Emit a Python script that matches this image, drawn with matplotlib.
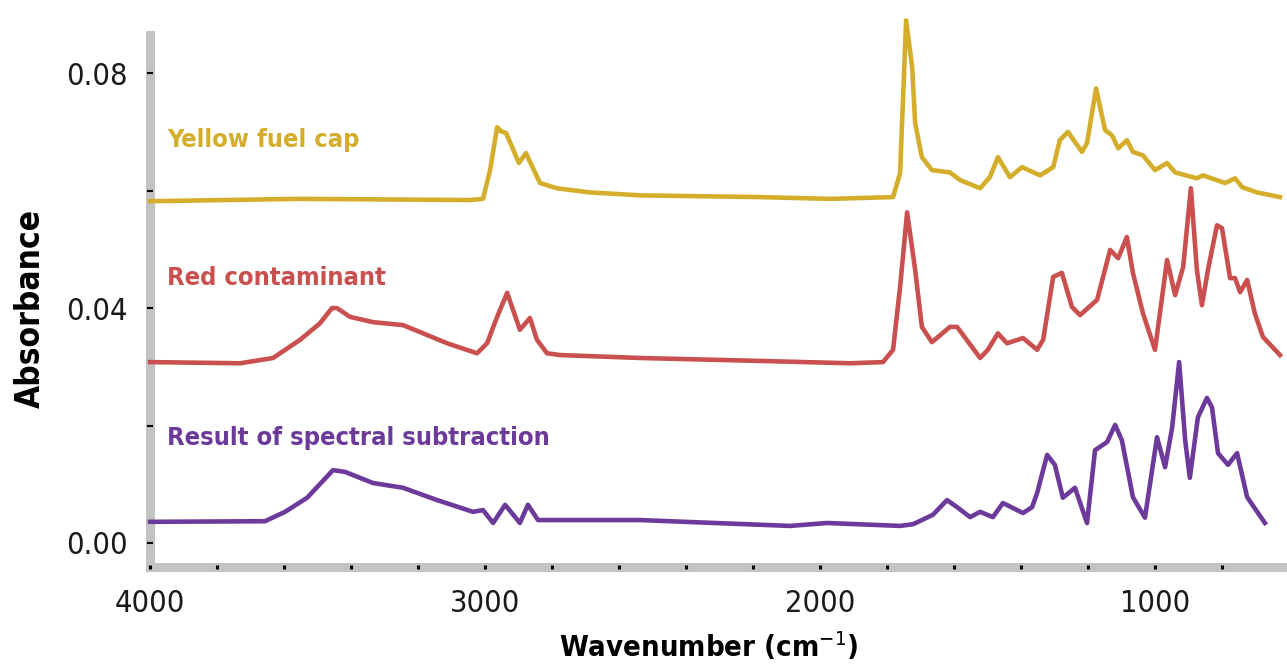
import numpy as np
import matplotlib
matplotlib.use('Agg')
import matplotlib.pyplot as plt
from matplotlib.ticker import MultipleLocator, FormatStrFormatter

# FTIR spectra, values
yellow_wn = [4000, 3552, 3045, 3006, 2985, 2964, 2952, 2937, 2899, 2878, 2836, 2785,
             2687, 2537, 2179, 1970, 1782, 1761, 1743, 1725, 1716, 1696, 1666, 1612,
             1582, 1522, 1493, 1469, 1433, 1397, 1343, 1304, 1284, 1260, 1218, 1203,
             1176, 1149, 1128, 1110, 1084, 1066, 1036, 1000, 964, 940, 875, 857,
             791, 761, 740, 696, 627]
yellow_abs = [0.0582, 0.0586, 0.0584, 0.0586, 0.0635, 0.0708, 0.0701, 0.0698, 0.0647,
              0.0664, 0.0613, 0.0604, 0.0597, 0.0592, 0.0589, 0.0586, 0.0589, 0.0630,
              0.0890, 0.0810, 0.0715, 0.0657, 0.0635, 0.0631, 0.0618, 0.0604, 0.0623,
              0.0657, 0.0623, 0.0640, 0.0626, 0.0640, 0.0686, 0.0700, 0.0666, 0.0681,
              0.0774, 0.0703, 0.0694, 0.0672, 0.0686, 0.0666, 0.0660, 0.0635, 0.0647,
              0.0631, 0.0621, 0.0626, 0.0613, 0.0621, 0.0606, 0.0597, 0.0589]

red_wn = [4000, 3731, 3633, 3552, 3493, 3457, 3442, 3403, 3334, 3245, 3185, 3113,
          3024, 2994, 2964, 2934, 2896, 2866, 2845, 2815, 2776, 2537, 2179, 1910,
          1812, 1782, 1761, 1740, 1716, 1696, 1666, 1612, 1591, 1522, 1499, 1469,
          1442, 1394, 1352, 1334, 1304, 1278, 1248, 1224, 1173, 1134, 1110, 1084,
          1066, 1036, 1000, 964, 940, 916, 893, 875, 860, 842, 815, 800, 776, 761,
          746, 725, 702, 678, 627]
red_abs = [0.0308, 0.0306, 0.0315, 0.0346, 0.0374, 0.0400, 0.0400, 0.0385, 0.0376,
           0.0371, 0.0357, 0.0340, 0.0323, 0.0340, 0.0385, 0.0426, 0.0363, 0.0383,
           0.0346, 0.0323, 0.0320, 0.0315, 0.0310, 0.0306, 0.0308, 0.0329, 0.0436,
           0.0563, 0.0465, 0.0368, 0.0342, 0.0368, 0.0368, 0.0315, 0.0329, 0.0357,
           0.0340, 0.0349, 0.0329, 0.0346, 0.0453, 0.0460, 0.0402, 0.0388, 0.0414,
           0.0499, 0.0485, 0.0521, 0.0460, 0.0391, 0.0329, 0.0482, 0.0422, 0.0470,
           0.0604, 0.0465, 0.0405, 0.0465, 0.0541, 0.0536, 0.0451, 0.0451, 0.0427,
           0.0448, 0.0391, 0.0351, 0.0320]

result_wn = [4000, 3657, 3597, 3531, 3454, 3418, 3334, 3245, 3143, 3036, 3006, 2976,
             2940, 2896, 2872, 2842, 2537, 2090, 1979, 1761, 1722, 1663, 1621, 1591,
             1552, 1522, 1484, 1454, 1394, 1367, 1352, 1322, 1299, 1275, 1239, 1203,
             1179, 1143, 1119, 1099, 1066, 1030, 994, 970, 949, 928, 910, 896, 872,
             845, 830, 812, 782, 755, 725, 672]
result_abs = [0.0036, 0.0037, 0.0053, 0.0077, 0.0124, 0.0121, 0.0102, 0.0094, 0.0073,
              0.0053, 0.0056, 0.0034, 0.0065, 0.0034, 0.0065, 0.0039, 0.0039, 0.0029,
              0.0034, 0.0029, 0.0032, 0.0048, 0.0073, 0.0061, 0.0044, 0.0053, 0.0044,
              0.0068, 0.0051, 0.0061, 0.0085, 0.0150, 0.0133, 0.0077, 0.0094, 0.0034,
              0.0158, 0.0172, 0.0201, 0.0175, 0.0078, 0.0043, 0.0180, 0.0129, 0.0196,
              0.0308, 0.0175, 0.0111, 0.0214, 0.0247, 0.0231, 0.0153, 0.0133, 0.0153,
              0.0078, 0.0034]

names = ['Yellow fuel cap', 'Red contaminant', 'Result of spectral subtraction']
colors = ['#d4ae2b', '#c9504e', '#6c3a9a']
label_y = [0.0686, 0.0451, 0.0179]

plt.rcParams['font.family'] = 'DejaVu Sans'
plt.rcParams['font.stretch'] = 'condensed'

fig = plt.figure(figsize=(12.87, 6.66), dpi=100)
ax = fig.add_axes([0.1166, 0.1486, 0.8834, 0.7988])

series = [(yellow_wn, yellow_abs), (red_wn, red_abs), (result_wn, result_abs)]
for (wn, ab), c, name, ly in zip(series, colors, names, label_y):
    ax.plot(wn, ab, color=c, lw=3.3, clip_on=False, solid_joinstyle='round', zorder=3)
    ax.text(3950, ly, name, color=c, fontsize=18.3, fontweight='bold',
            fontstretch='condensed', va='center', ha='left')

ax.set_xlim(4000, 606)
ax.set_ylim(-0.0041, 0.0865)

for side in ['top', 'right']:
    ax.spines[side].set_visible(False)
for side in ['left', 'bottom']:
    ax.spines[side].set_color('#c3c3c3')
    ax.spines[side].set_linewidth(6.5)
    ax.spines[side].set_capstyle('projecting')
    ax.spines[side].set_zorder(1.5)
ax.set_axisbelow(False)

ax.xaxis.set_major_locator(MultipleLocator(1000))
ax.xaxis.set_minor_locator(MultipleLocator(200))
ax.yaxis.set_major_locator(MultipleLocator(0.04))
ax.yaxis.set_minor_locator(MultipleLocator(0.02))
ax.yaxis.set_major_formatter(FormatStrFormatter('%.2f'))

ax.tick_params(axis='x', which='both', direction='inout', length=3, width=2.2,
               color='black', pad=14, labelsize=22)
ax.tick_params(axis='y', which='both', direction='inout', length=4.3, width=1.5,
               color='black', pad=14, labelsize=22)
for lab in ax.get_xticklabels() + ax.get_yticklabels():
    lab.set_fontstretch('condensed')
    lab.set_color('#1a1a1a')

ax.set_ylabel('Absorbance', fontsize=24, fontweight='bold', fontstretch='condensed',
              va='center')
ax.yaxis.set_label_coords(-0.1055, 0.487)
ax.set_xlabel('Wavenumber (cm$^{-1}$)', fontsize=21, fontweight='bold',
              fontstretch='condensed', va='center')
ax.xaxis.set_label_coords(0.491, -0.15)

fig.savefig('out.png', dpi=100)
